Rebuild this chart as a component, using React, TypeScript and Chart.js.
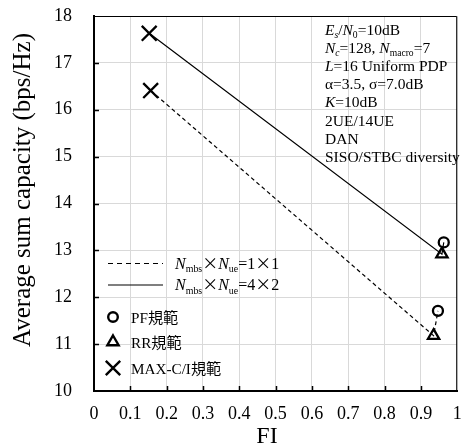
import React, { useEffect, useRef } from "react";
import { Chart, registerables } from "chart.js";

Chart.register(...registerables);

// Data (FI, average sum capacity) in order MAX-C/I, RR, PF
const schemes = ["MAX-C/I", "RR", "PF"];
const fi4x2 = [0.152, 0.958, 0.963];
const cap4x2 = [17.63, 12.92, 13.17];
const fi1x1 = [0.156, 0.935, 0.947];
const cap1x1 = [16.41, 11.18, 11.71];
const xTicks = [0, 0.1, 0.2, 0.3, 0.4, 0.5, 0.6, 0.7, 0.8, 0.9, 1];
const yTicks = [10, 11, 12, 13, 14, 15, 16, 17, 18];
const legendLines = [["1", "1"], ["4", "2"]];
const legendMarkers = ["PF規範", "RR規範", "MAX-C/I規範"];

const SERIF = '"Liberation Serif", "Times New Roman", "Noto Sans CJK JP", serif';
const CJK = '"Noto Sans CJK JP", sans-serif';

type Seg = { t: string; i?: boolean; sub?: boolean; cjk?: boolean };

function drawRich(ctx: CanvasRenderingContext2D, x: number, y: number, segs: Seg[], size: number, subScale = 0.62) {
  let cx = x;
  ctx.textBaseline = "alphabetic";
  ctx.textAlign = "left";
  for (const s of segs) {
    const fs = s.sub ? size * subScale : size;
    ctx.font = `${s.i ? "italic " : ""}${fs}px ${s.cjk ? CJK : SERIF}`;
    const dy = s.sub ? size * 0.22 : 0;
    ctx.fillText(s.t, cx, y + dy);
    cx += ctx.measureText(s.t).width;
  }
}

const markerStyles = ["crossRot", "triangle", "circle"];
const markerRadius = [10.5, 6.5, 5];

export default function App() {
  const ref = useRef<HTMLCanvasElement | null>(null);
  useEffect(() => {
    if (!ref.current) return;
    const mk = (fi: number[], cap: number[], dash: number[]) => ({
      data: fi.map((x, k) => ({ x, y: cap[k] })),
      borderColor: "#000",
      borderWidth: 1.2,
      borderDash: dash,
      pointStyle: markerStyles as any,
      pointRadius: markerRadius,
      pointBorderWidth: 2.3,
      pointBorderColor: "#000",
      pointBackgroundColor: "rgba(255,255,255,0)",
      showLine: true,
      tension: 0,
    });

    const overlay = {
      id: "overlay",
      afterDraw(chart: any) {
        const ctx = chart.ctx as CanvasRenderingContext2D;
        const xs = chart.scales.x;
        const ys = chart.scales.y;
        const { left, right, top, bottom } = chart.chartArea;
        ctx.save();
        ctx.fillStyle = "#000";
        ctx.strokeStyle = "#000";
        // top/right frame
        ctx.lineWidth = 1;
        ctx.beginPath();
        ctx.moveTo(left, top + 0.5);
        ctx.lineTo(right - 0.5, top + 0.5);
        ctx.lineTo(right - 0.5, bottom);
        ctx.stroke();
        // inward ticks
        ctx.lineWidth = 1.5;
        ctx.beginPath();
        for (const v of xTicks.slice(1, -1)) {
          const px = Math.round(xs.getPixelForValue(v)) + 0.5;
          ctx.moveTo(px, bottom);
          ctx.lineTo(px, bottom - 5);
        }
        for (const v of yTicks.slice(1, -1)) {
          const py = Math.round(ys.getPixelForValue(v)) + 0.5;
          ctx.moveTo(left, py);
          ctx.lineTo(left + 5, py);
        }
        ctx.stroke();

        // axis titles
        ctx.textAlign = "center";
        ctx.textBaseline = "middle";
        ctx.font = `24px ${SERIF}`;
        ctx.fillText("FI", 267, 437);
        ctx.save();
        ctx.font = `25px ${SERIF}`;
        ctx.translate(23, 190);
        ctx.rotate(-Math.PI / 2);
        ctx.fillText("Average sum capacity (bps/Hz)", 0, 0);
        ctx.restore();

        // annotation
        const ax = 325;
        const ay0 = 34.5;
        const lh = 18.2;
        const fs = 15.5;
        const lines: Seg[][] = [
          [{ t: "E", i: true }, { t: "s", i: true, sub: true }, { t: "/" }, { t: "N", i: true }, { t: "0", sub: true }, { t: "=10dB" }],
          [{ t: "N", i: true }, { t: "c", i: true, sub: true }, { t: "=128, " }, { t: "N", i: true }, { t: "macro", sub: true }, { t: "=7" }],
          [{ t: "L", i: true }, { t: "=16 Uniform PDP" }],
          [{ t: "\u03b1=3.5, \u03c3=7.0dB" }],
          [{ t: "K", i: true }, { t: "=10dB" }],
          [{ t: "2UE/14UE" }],
          [{ t: "DAN" }],
          [{ t: "SISO/STBC diversity" }],
        ];
        lines.forEach((segs, k) => drawRich(ctx, ax, ay0 + k * lh, segs, fs));

        // legend lines
        const lfs = 16;
        const lineYs = [263.5, 285];
        lineYs.forEach((ly, k) => {
          ctx.lineWidth = 1.2;
          ctx.setLineDash(k === 0 ? [5, 4] : []);
          ctx.beginPath();
          ctx.moveTo(108, ly);
          ctx.lineTo(163, ly);
          ctx.stroke();
          ctx.setLineDash([]);
          drawRich(ctx, 175, ly + 5, [
            { t: "N", i: true }, { t: "mbs", sub: true }, { t: "\u00d7", cjk: true },
            { t: "N", i: true }, { t: "ue", sub: true }, { t: "=" + legendLines[k][0] },
            { t: "\u00d7", cjk: true }, { t: legendLines[k][1] },
          ], lfs, 0.62);
        });
        // legend markers
        const mYs = [317, 342, 368];
        const mx = 113;
        ctx.lineWidth = 2.4;
        ctx.beginPath();
        ctx.arc(mx, mYs[0], 4.8, 0, Math.PI * 2);
        ctx.stroke();
        const r = 6.5;
        ctx.beginPath();
        ctx.moveTo(mx, mYs[1] - r);
        ctx.lineTo(mx + r * Math.cos(Math.PI / 6), mYs[1] + r / 2);
        ctx.lineTo(mx - r * Math.cos(Math.PI / 6), mYs[1] + r / 2);
        ctx.closePath();
        ctx.stroke();
        const c = 7.2;
        ctx.beginPath();
        ctx.moveTo(mx - c, mYs[2] - c);
        ctx.lineTo(mx + c, mYs[2] + c);
        ctx.moveTo(mx + c, mYs[2] - c);
        ctx.lineTo(mx - c, mYs[2] + c);
        ctx.stroke();
        legendMarkers.forEach((t, k) => {
          const m = t.match(/^(.*?)(規範)$/);
          const segs: Seg[] = m ? [{ t: m[1] }, { t: m[2], cjk: true }] : [{ t }];
          drawRich(ctx, 131, mYs[k] + 5.5, segs, 15.2);
        });
        ctx.restore();
      },
    };

    const chart = new Chart(ref.current, {
      type: "line",
      data: {
        datasets: [
          { label: "Nmbs×Nue=1×1", ...mk(fi1x1, cap1x1, [4, 3]) },
          { label: "Nmbs×Nue=4×2", ...mk(fi4x2, cap4x2, []) },
        ] as any,
      },
      options: {
        responsive: false,
        animation: false,
        devicePixelRatio: 1,
        layout: { padding: { top: 16, right: 7, left: 0, bottom: 0 } },
        plugins: { legend: { display: false }, tooltip: { enabled: false }, title: { display: false } },
        scales: {
          x: {
            type: "linear",
            min: 0,
            max: 1,
            afterBuildTicks: (s: any) => { s.ticks = xTicks.map((v) => ({ value: v })); },
            afterFit: (s: any) => { s.height = 57; s.paddingLeft = 0; s.paddingRight = 0; s.paddingTop = 0; s.paddingBottom = 0; },
            grid: { color: "#d9d9d9", lineWidth: 1, drawTicks: false },
            border: { color: "#000", width: 2 },
            ticks: {
              padding: 12,
              color: "#000",
              font: { family: SERIF, size: 18 },
              callback: (v: any) => (v === 0 || v === 1 ? String(v) : Number(v).toFixed(1)),
            },
          },
          y: {
            type: "linear",
            min: 10,
            max: 18,
            afterBuildTicks: (s: any) => { s.ticks = yTicks.map((v) => ({ value: v })); },
            afterFit: (s: any) => { s.width = 94; s.paddingLeft = 0; s.paddingRight = 0; s.paddingTop = 0; s.paddingBottom = 0; },
            grid: { color: "#d9d9d9", lineWidth: 1, drawTicks: false },
            border: { color: "#000", width: 2 },
            ticks: {
              padding: 22,
              color: "#000",
              font: { family: SERIF, size: 18 },
              callback: (v: any) => String(v),
            },
          },
        },
      },
      plugins: [overlay],
    });
    return () => chart.destroy();
  }, []);
  return (
    <div style={{ position: "absolute", left: 0, top: 0, width: 470, height: 448, background: "#fff" }}>
      <canvas ref={ref} width={470} height={448} />
    </div>
  );
}
